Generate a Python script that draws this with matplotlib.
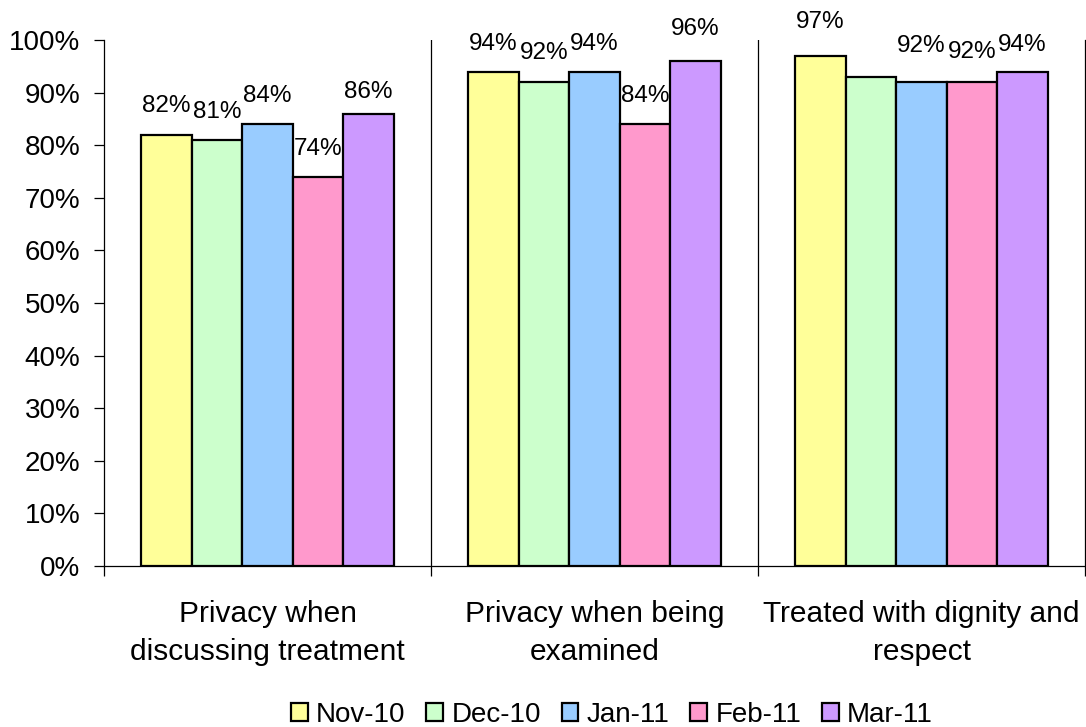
# Satisfaction survey chart: privacy and dignity, Nov-10 to Mar-11
import matplotlib
matplotlib.use("Agg")
import matplotlib.pyplot as plt
import matplotlib.patches as mpatches
import numpy as np

plt.rcParams["font.family"] = ["Liberation Sans", "DejaVu Sans"]

categories = ["Privacy when\ndiscussing treatment",
              "Privacy when being\nexamined",
              "Treated with dignity and\nrespect"]
months = ["Nov-10", "Dec-10", "Jan-11", "Feb-11", "Mar-11"]
colors = ["#FFFF99", "#CCFFCC", "#99CCFF", "#FF99CC", "#CC99FF"]

nov = [82, 94, 97]
dec = [81, 92, 93]
jan = [84, 94, 92]
feb = [74, 84, 92]
mar = [86, 96, 94]
series = [nov, dec, jan, feb, mar]

# which values get a data label (Dec-10 dignity had none in the original)
show_label = [[True, True, True],
              [True, True, False],
              [True, True, True],
              [True, True, True],
              [True, True, True]]
# label lift above the bar, in percentage points
label_lift = [[5.5, 5.3, 6.5],
              [5.4, 5.5, 0.0],
              [5.4, 5.3, 6.9],
              [5.3, 5.4, 5.8],
              [4.1, 6.1, 5.0]]

fig = plt.figure(figsize=(10.86, 7.27), dpi=100)
ax = fig.add_axes([0.0958, 0.2215, 0.9033, 0.7235])

x = np.arange(len(categories)) + 0.5
bar_w = 0.1546

for i, (vals, col) in enumerate(zip(series, colors)):
    pos = x + (i - 2) * bar_w
    ax.bar(pos, vals, width=bar_w, color=col, edgecolor="black",
           linewidth=1.6, zorder=3)
    for p, v, show, lift in zip(pos, vals, show_label[i], label_lift[i]):
        if show:
            ax.text(p, v + lift, f"{v}%", ha="center", va="center",
                    fontsize=17.5, zorder=4)

# separators between categories
for b in [1, 2]:
    ax.axvline(b, color="black", linewidth=0.9, zorder=2)

ax.set_xlim(0, 3)
ax.set_ylim(0, 100)
ax.set_yticks(np.arange(0, 101, 10))
ax.set_yticklabels([f"{v}%" for v in range(0, 101, 10)], fontsize=20)
ax.tick_params(axis="y", direction="out", length=7, width=0.9, pad=10)

ax.set_xticks([0, 1, 2, 3])
ax.set_xticklabels([])
ax.tick_params(axis="x", which="major", direction="out", length=7, width=0.9)
ax.set_xticks(x, minor=True)
ax.set_xticklabels(categories, minor=True, fontsize=21.5, linespacing=1.45)
ax.tick_params(axis="x", which="minor", length=0, pad=24.5)

for s in ["left", "bottom", "right"]:
    ax.spines[s].set_linewidth(0.9)
ax.spines["top"].set_visible(False)

handles = [mpatches.Patch(facecolor=c, edgecolor="black", linewidth=1.6, label=m)
           for c, m in zip(colors, months)]
fig.legend(handles=handles, loc="center", bbox_to_anchor=(612 / 1086, 1 - 715 / 727),
           ncol=5, frameon=False, fontsize=20, handlelength=0.6, handleheight=0.6,
           handletextpad=0.3, columnspacing=0.75)

fig.savefig("out.png", dpi=100)
plt.close(fig)
